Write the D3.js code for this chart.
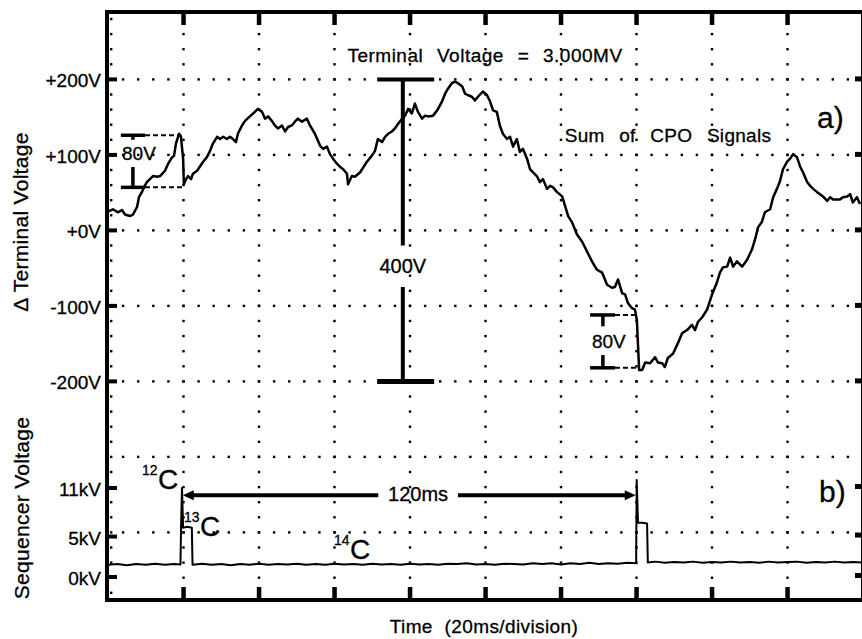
<!DOCTYPE html>
<html>
<head>
<meta charset="utf-8">
<script src="https://cdn.jsdelivr.net/npm/d3@7"></script>
<style>
  body { margin: 0; background: #fff; }
  text { font-family: "Liberation Sans", Arial, Helvetica, sans-serif; fill: #000; stroke: #000; stroke-width: 0.3; }
</style>
</head>
<body>
<svg id="chart" width="862" height="639"></svg>
<script>
// ---- data ----
// sum of CPO signals: [time ms, delta terminal voltage V]
const sumCPO = [[0,25],[1.3,28],[2.6,24],[3.7,27],[4.5,21],[5.8,19],[6.6,21],[7.7,31],[8.2,44],[9.0,51],[9.5,57],[10.3,64],[11.1,68],[11.9,72],[13.0,71],[13.8,72],[15.1,79],[15.9,88],[17.0,97],[17.5,99],[18.0,115],[18.8,128],[19.3,125],[19.9,95],[20.1,61],[20.7,68],[21.2,72],[22.0,68],[22.5,75],[23.6,79],[24.4,85],[25.2,91],[26.2,97],[27.0,105],[27.8,115],[28.9,124],[29.7,121],[30.5,124],[31.5,121],[32.3,124],[33.1,121],[33.9,117],[34.4,128],[35.5,139],[36.3,145],[37.6,151],[38.9,157],[39.7,161],[40.8,157],[41.6,148],[42.4,151],[43.4,145],[44.2,139],[45.0,135],[46.1,139],[46.9,131],[47.7,137],[48.7,139],[49.5,144],[50.3,148],[51.4,144],[52.7,148],[53.5,139],[54.8,128],[56.2,112],[57.0,108],[58.0,111],[58.8,101],[59.6,95],[60.7,88],[61.5,84],[62.3,81],[63.3,75],[63.6,61],[64.6,72],[65.4,71],[66.8,77],[68.6,91],[69.9,99],[70.7,105],[71.5,121],[72.6,117],[73.4,124],[74.2,128],[75.2,131],[76.0,135],[76.8,141],[77.9,148],[78.7,152],[79.5,161],[80.5,155],[81.3,168],[82.1,157],[83.2,148],[84.0,152],[84.8,151],[86.1,152],[87.2,159],[88.5,171],[89.3,181],[90.1,188],[91.1,195],[91.9,197],[92.7,195],[93.8,191],[94.6,181],[95.4,179],[96.4,177],[97.2,172],[98.0,177],[99.3,184],[100.4,179],[101.2,171],[102.0,159],[103.0,157],[103.8,139],[104.6,128],[105.7,121],[106.5,124],[107.3,111],[108.3,121],[109.1,104],[109.9,108],[111.0,95],[111.8,81],[112.6,77],[113.6,72],[114.4,64],[115.2,68],[116.3,55],[117.1,59],[117.9,57],[118.9,51],[120.3,45],[121.1,32],[121.9,19],[122.9,11],[124.2,-5],[125.6,-15],[126.9,-28],[128.2,-41],[129.5,-52],[130.9,-56],[132.2,-72],[133.5,-76],[134.3,-75],[135.1,-65],[136.2,-83],[137.0,-85],[137.7,-96],[138.8,-103],[139.6,-105],[140.1,-119],[140.7,-185],[141.5,-185],[142.3,-175],[143.6,-176],[144.9,-168],[145.7,-175],[146.8,-176],[147.5,-181],[148.3,-169],[149.7,-163],[151.0,-149],[152.1,-136],[153.4,-132],[154.7,-125],[155.5,-132],[156.3,-121],[157.4,-115],[158.7,-105],[160.0,-85],[161.3,-69],[162.1,-56],[162.9,-49],[164.0,-48],[164.8,-36],[165.6,-48],[166.6,-41],[168.0,-48],[169.3,-39],[170.6,-25],[171.4,-12],[172.2,4],[173.2,11],[174.0,24],[175.4,28],[176.2,44],[177.2,55],[178.0,65],[178.8,81],[179.9,91],[180.7,95],[181.5,101],[182.5,97],[183.3,85],[184.1,77],[185.2,64],[186.0,59],[186.8,55],[187.8,51],[188.6,48],[189.4,45],[190.5,39],[191.3,44],[192.1,41],[193.1,41],[193.9,41],[194.7,44],[195.8,45],[196.6,48],[197.3,37],[198.4,44],[199.2,35]];

// sequencer voltage: [time ms, kV]
const sequencer = [[0,1.5],[2.5,1.6],[5,1.45],[7.5,1.6],[10,1.5],[12.5,1.65],[15,1.5],[17.5,1.6],[19.2,1.55],[19.35,6.0],[19.6,11.0],[19.9,6.1],[21.0,6.2],[22.2,6.1],[22.4,1.5],[25,1.65],[27.5,1.5],[30,1.6],[32.5,1.45],[35,1.6],[37.5,1.5],[40,1.65],[42.5,1.5],[45,1.6],[47.5,1.55],[50,1.65],[52.5,1.5],[55,1.6],[57.5,1.5],[60,1.65],[62.5,1.55],[65,1.6],[67.5,1.5],[70,1.65],[72.5,1.55],[75,1.6],[77.5,1.5],[80,1.65],[82.5,1.55],[85,1.6],[87.5,1.5],[90,1.65],[92.5,1.6],[95,1.7],[97.5,1.55],[100,1.6],[102.5,1.5],[105,1.65],[107.5,1.6],[110,1.55],[112.5,1.7],[115,1.6],[117.5,1.7],[120,1.55],[122.5,1.7],[125,1.6],[127.5,1.75],[130,1.6],[132.5,1.7],[135,1.65],[137.5,1.75],[139.9,1.7],[140.05,12.0],[140.4,6.7],[141.5,6.7],[142.8,6.6],[143.0,1.8],[145,1.9],[147.5,1.75],[150,1.85],[152.5,1.8],[155,1.9],[157.5,1.75],[160,1.85],[162.5,1.8],[165,1.9],[167.5,1.8],[170,1.85],[172.5,1.75],[175,1.9],[177.5,1.8],[180,1.85],[182.5,1.9],[185,1.75],[187.5,1.85],[190,1.8],[192.5,1.9],[195,1.8],[197.5,1.85],[200,1.8]];

const voltTicks = [200, 100, 0, -100, -200];
const voltTickLabels = ["+200V", "+100V", "+0V", "-100V", "-200V"];
const kvTicks = [11, 5, 0];
const kvTickLabels = ["11kV", "5kV", "0kV"];
const timeTicks = [20, 40, 60, 80, 100, 120, 140, 160, 180];
const gridRows = [200, 100, 0, -100, -200, -300, -400];   // graticule rows in V units

// annotation values
const leftStep = [3.4, 6.6, 9.8];        // bar left, stem, bar right (ms)
const leftStepV = [126, 120, 84, 57];    // top bar, top stem end, bottom stem start, bottom bar (V)
const leftDashEnd = [18.9, 20.0];        // dashed leader ends, top / bottom (ms)
const rightStep = [127.7, 131.1, 134.3];
const rightStepV = [-112, -127, -165, -182];
const rightDashEnd = [139.8, 140.9];
const span400 = [71.3, 78.1, 86.4];      // bar left, stem, bar right (ms)
const span400V = [200, -20, -75, -200];  // top, gap top, gap bottom, bottom (V)
const delayArrow = [19.8, 71.6, 92.7, 139.8]; // arrow start, gap start, gap end, arrow end (ms)
const delayArrowKV = 10.1;

// ---- layout ----
const svg = d3.select("#chart");
const frameTop = 12, frameBottom = 600;

const x = d3.scaleLinear().domain([0, 200]).range([108, 863]);
const yV = d3.scaleLinear().domain([-400, 200]).range([532.4, 79.4]);
const yKV = d3.scaleLinear().domain([0, 11]).range([577, 488]);

// graticule dots
const dotStepsX = d3.range(4, 200, 4);
const dotStepsV = d3.range(-480, 281, 20);
const grid = svg.append("g");
gridRows.forEach(function (v) {
  grid.selectAll(null).data(dotStepsX).enter().append("rect")
    .attr("x", d => x(d) - 1.2).attr("y", yV(v) - 1.2)
    .attr("width", 2.4).attr("height", 2.4).attr("fill", "#000");
});
timeTicks.forEach(function (t) {
  grid.selectAll(null).data(dotStepsV).enter().append("rect")
    .attr("x", x(t) - 1.2).attr("y", d => yV(d) - 1.2)
    .attr("width", 2.4).attr("height", 2.4).attr("fill", "#000");
});
// minor marks along the left axis
grid.selectAll(null).data(dotStepsV).enter().append("rect")
  .attr("x", x(0) + 2).attr("y", d => yV(d) - 1.2)
  .attr("width", 2.4).attr("height", 2.4).attr("fill", "#000");

// frame
const frame = svg.append("g").attr("stroke", "#000").attr("stroke-width", 4);
frame.append("line").attr("x1", x(0) - 1).attr("x2", x(0) - 1).attr("y1", frameTop - 2).attr("y2", frameBottom + 2);
frame.append("line").attr("x1", x(0) - 3).attr("x2", 862).attr("y1", frameTop).attr("y2", frameTop);
frame.append("line").attr("x1", x(0) - 3).attr("x2", 862).attr("y1", frameBottom).attr("y2", frameBottom);
frame.append("line").attr("x1", x(200)).attr("x2", x(200)).attr("y1", frameTop).attr("y2", frameBottom);

// time ticks top and bottom
const ticks = svg.append("g").attr("fill", "#000");
ticks.selectAll(null).data(timeTicks).enter().append("rect")
  .attr("x", d => x(d) - 2.2).attr("y", frameTop).attr("width", 4.5).attr("height", 13);
ticks.selectAll(null).data(timeTicks).enter().append("rect")
  .attr("x", d => x(d) - 2.2).attr("y", frameBottom - 13).attr("width", 4.5).attr("height", 13);

// left major ticks + labels
ticks.selectAll(null).data(voltTicks).enter().append("rect")
  .attr("x", x(0) - 1).attr("y", d => yV(d) - 2).attr("width", 10).attr("height", 4);
ticks.selectAll(null).data(kvTicks).enter().append("rect")
  .attr("x", x(0) - 1).attr("y", d => yKV(d) - 2).attr("width", 10).attr("height", 4);
// right edge ticks
ticks.selectAll(null).data(voltTicks).enter().append("rect")
  .attr("x", x(200) - 8).attr("y", d => yV(d) - 3).attr("width", 8).attr("height", 5);
ticks.selectAll(null).data(kvTicks).enter().append("rect")
  .attr("x", x(200) - 8).attr("y", d => yKV(d) - 4).attr("width", 8).attr("height", 5);

const labels = svg.append("g").attr("font-size", 19).attr("text-anchor", "end");
labels.selectAll(null).data(voltTicks).enter().append("text")
  .attr("x", 101).attr("y", d => yV(d) + 8)
  .text((d, i) => voltTickLabels[i]);
labels.selectAll(null).data(kvTicks).enter().append("text")
  .attr("x", 101).attr("y", d => yKV(d) + 8)
  .text((d, i) => kvTickLabels[i]);

// axis titles
svg.append("text").attr("transform", "translate(28,222) rotate(-90)")
  .attr("text-anchor", "middle").attr("font-size", 21).attr("letter-spacing", 0.3)
  .text("\u0394 Terminal Voltage");
svg.append("text").attr("transform", "translate(29,508) rotate(-90)")
  .attr("text-anchor", "middle").attr("font-size", 21).attr("letter-spacing", 0.3)
  .text("Sequencer Voltage");
svg.append("text").attr("x", 484).attr("y", 633)
  .attr("text-anchor", "middle").attr("font-size", 19).attr("word-spacing", 6).attr("letter-spacing", 0.4)
  .text("Time (20ms/division)");

// traces
const lineV = d3.line().x(d => x(d[0])).y(d => yV(d[1]));
const lineKV = d3.line().x(d => x(d[0])).y(d => yKV(d[1]));
svg.append("path").datum(sumCPO).attr("d", lineV)
  .attr("fill", "none").attr("stroke", "#000").attr("stroke-width", 2.5).attr("stroke-linejoin", "round");
svg.append("path").datum(sequencer).attr("d", lineKV)
  .attr("fill", "none").attr("stroke", "#000").attr("stroke-width", 2).attr("stroke-linejoin", "round");

// 80V step markers
function stepMarker(tt, vv, dashEnd) {
  const g = svg.append("g").attr("stroke", "#000");
  g.append("line").attr("x1", x(tt[0])).attr("x2", x(tt[2])).attr("y1", yV(vv[0])).attr("y2", yV(vv[0])).attr("stroke-width", 3.5);
  g.append("line").attr("x1", x(tt[1])).attr("x2", x(tt[1])).attr("y1", yV(vv[0])).attr("y2", yV(vv[1])).attr("stroke-width", 3.5);
  g.append("line").attr("x1", x(tt[1])).attr("x2", x(tt[1])).attr("y1", yV(vv[2])).attr("y2", yV(vv[3])).attr("stroke-width", 3.5);
  g.append("line").attr("x1", x(tt[0])).attr("x2", x(tt[2])).attr("y1", yV(vv[3])).attr("y2", yV(vv[3])).attr("stroke-width", 3.5);
  g.append("line").attr("x1", x(tt[2])).attr("x2", x(dashEnd[0])).attr("y1", yV(vv[0])).attr("y2", yV(vv[0]))
    .attr("stroke-width", 2).attr("stroke-dasharray", "5,3");
  g.append("line").attr("x1", x(tt[2])).attr("x2", x(dashEnd[1])).attr("y1", yV(vv[3])).attr("y2", yV(vv[3]))
    .attr("stroke-width", 2).attr("stroke-dasharray", "5,3");
  svg.append("text").attr("x", x(tt[1]) + 6).attr("y", (yV(vv[1]) + yV(vv[2])) / 2 + 7)
    .attr("text-anchor", "middle").attr("font-size", 19).text("80V");
}
stepMarker(leftStep, leftStepV, leftDashEnd);
stepMarker(rightStep, rightStepV, rightDashEnd);

// 400V span
const sp = svg.append("g").attr("stroke", "#000").attr("stroke-width", 4);
sp.append("line").attr("x1", x(span400[0])).attr("x2", x(span400[2])).attr("y1", yV(span400V[0])).attr("y2", yV(span400V[0]));
sp.append("line").attr("x1", x(span400[0])).attr("x2", x(span400[2])).attr("y1", yV(span400V[3])).attr("y2", yV(span400V[3])).attr("stroke-width", 5);
sp.append("line").attr("x1", x(span400[1])).attr("x2", x(span400[1])).attr("y1", yV(span400V[0])).attr("y2", yV(span400V[1]));
sp.append("line").attr("x1", x(span400[1])).attr("x2", x(span400[1])).attr("y1", yV(span400V[2])).attr("y2", yV(span400V[3]));
svg.append("text").attr("x", x(span400[1])).attr("y", (yV(span400V[1]) + yV(span400V[2])) / 2 + 7)
  .attr("text-anchor", "middle").attr("font-size", 20).text("400V");

// 120ms delay arrow
const ay = yKV(delayArrowKV);
const ar = svg.append("g").attr("stroke", "#000").attr("stroke-width", 4);
ar.append("line").attr("x1", x(delayArrow[0]) + 6).attr("x2", x(delayArrow[1])).attr("y1", ay).attr("y2", ay);
ar.append("line").attr("x1", x(delayArrow[2])).attr("x2", x(delayArrow[3]) - 6).attr("y1", ay).attr("y2", ay);
svg.append("path").attr("fill", "#000")
  .attr("d", d3.line()([[x(delayArrow[0]), ay], [x(delayArrow[0]) + 11, ay - 5], [x(delayArrow[0]) + 11, ay + 5]]));
svg.append("path").attr("fill", "#000")
  .attr("d", d3.line()([[x(delayArrow[3]), ay], [x(delayArrow[3]) - 11, ay - 5], [x(delayArrow[3]) - 11, ay + 5]]));
svg.append("text").attr("x", (x(delayArrow[1]) + x(delayArrow[2])) / 2).attr("y", ay + 6)
  .attr("text-anchor", "middle").attr("font-size", 20).text("120ms");

// isotope labels
function isotope(mass, xs, ys) {
  svg.append("text").attr("x", xs).attr("y", ys - 14).attr("font-size", 14).text(mass);
  svg.append("text").attr("x", xs + 16).attr("y", ys).attr("font-size", 28).text("C");
}
isotope("12", 142, 489);
isotope("13", 184, 536);
isotope("14", 334, 559);

// panel texts
svg.append("text").attr("x", 485).attr("y", 62).attr("text-anchor", "middle")
  .attr("font-size", 19).attr("word-spacing", 8).attr("letter-spacing", 0.5)
  .text("Terminal Voltage = 3.000MV");
svg.append("text").attr("x", 668).attr("y", 142).attr("text-anchor", "middle")
  .attr("font-size", 19).attr("word-spacing", 9).attr("letter-spacing", 0.3)
  .text("Sum of CPO Signals");
svg.append("text").attr("x", 817).attr("y", 128).attr("font-size", 30).text("a)");
svg.append("text").attr("x", 819).attr("y", 502).attr("font-size", 30).text("b)");
</script>
</body>
</html>
